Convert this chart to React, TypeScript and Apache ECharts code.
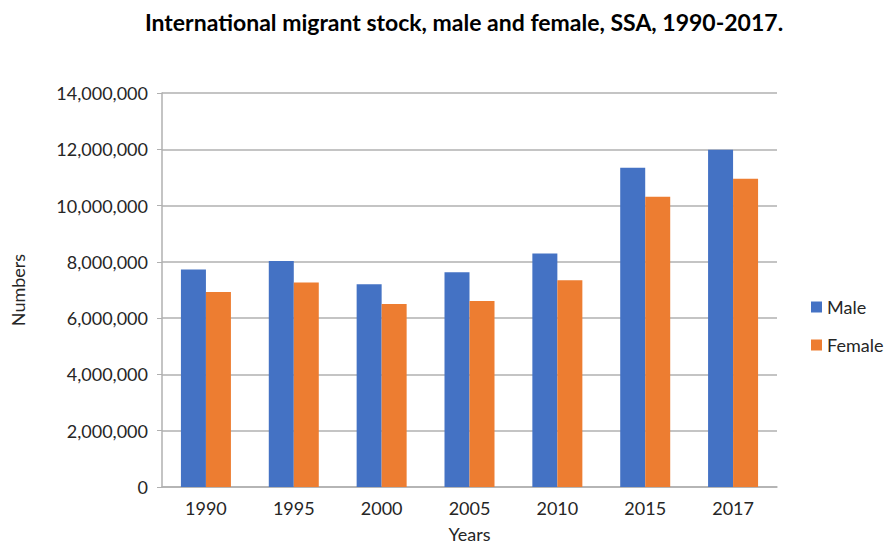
import React, { useEffect, useRef } from "react";
import * as echarts from "echarts";

const categories = ["1990", "1995", "2000", "2005", "2010", "2015", "2017"];
const maleValues = [7730000, 8030000, 7200000, 7630000, 8300000, 11340000, 11980000];
const femaleValues = [6930000, 7270000, 6500000, 6610000, 7350000, 10310000, 10950000];
const seriesNames = ["Male", "Female"];
const titleText = "International migrant stock, male and female, SSA, 1990-2017.";

const FONT = "Lato, 'Open Sans', sans-serif";
const TXT = "#262626";

export default function App() {
  const ref = useRef<HTMLDivElement>(null);
  useEffect(() => {
    document.body.style.margin = "0";
    document.body.style.overflow = "hidden";
    if (!ref.current) return;
    const chart = echarts.init(ref.current, undefined, { renderer: "svg" });
    chart.setOption({
      animation: false,
      backgroundColor: "#ffffff",
      title: {
        text: titleText,
        left: 459,
        textAlign: "center",
        top: 5,
        textStyle: { fontFamily: FONT, fontSize: 23, fontWeight: "bold", color: "#000" },
      },
      legend: {
        orient: "vertical",
        left: 806,
        top: 293,
        itemWidth: 11,
        itemHeight: 11,
        itemGap: 20,
        icon: "rect",
        textStyle: { fontFamily: FONT, fontSize: 18, color: TXT },
        data: seriesNames,
      },
      grid: {
        left: 162,
        right: 113,
        top: 93,
        bottom: 58,
        containLabel: false,
        outerBoundsMode: "none",
      },
      xAxis: {
        type: "category",
        data: categories,
        name: "Years",
        nameLocation: "middle",
        nameGap: 38,
        nameTextStyle: { fontFamily: FONT, fontSize: 18, color: TXT },
        axisLine: { lineStyle: { color: "#b0b0b0", width: 1.5 } },
        axisTick: { show: false },
        axisLabel: { fontFamily: FONT, fontSize: 18, color: TXT, margin: 12 },
      },
      yAxis: {
        type: "value",
        min: 0,
        max: 14000000,
        interval: 2000000,
        name: "Numbers",
        nameLocation: "middle",
        nameGap: 135,
        nameTextStyle: { fontFamily: FONT, fontSize: 18, color: TXT },
        axisLine: { show: true, lineStyle: { color: "#b0b0b0", width: 1.5 } },
        axisTick: { show: true, length: 5, lineStyle: { color: "#b0b0b0" } },
        splitLine: { lineStyle: { color: "#b0b0b0", width: 1.5 } },
        axisLabel: {
          fontFamily: FONT,
          fontSize: 18,
          color: TXT,
          margin: 14,
          formatter: (v: number) => v.toLocaleString("en-US"),
        },
      },
      series: [
        {
          name: seriesNames[0],
          type: "bar",
          data: maleValues,
          barWidth: 25,
          barGap: "0%",
          itemStyle: { color: "#4472C4" },
        },
        {
          name: seriesNames[1],
          type: "bar",
          data: femaleValues,
          barWidth: 25,
          barGap: "0%",
          itemStyle: { color: "#ED7D31" },
        },
      ],
    });
    return () => chart.dispose();
  }, []);
  return <div ref={ref} style={{ width: 890, height: 545 }} />;
}
